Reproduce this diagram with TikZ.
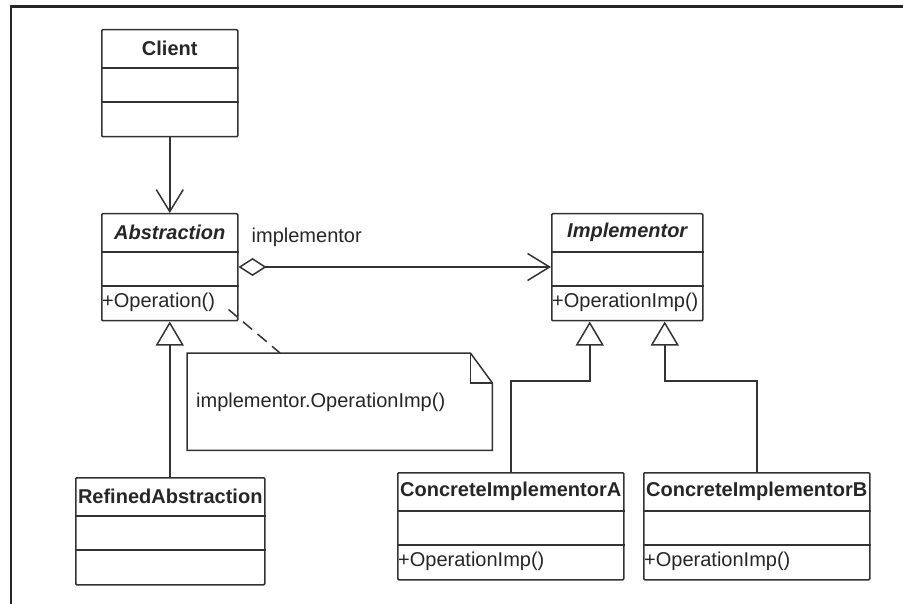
\documentclass[tikz,border=0pt]{standalone}
\usepackage{fontspec}
\setmainfont{Liberation Sans}
\usepackage{tikz}
\usetikzlibrary{calc,arrows.meta}
\tikzset{
	line/.style={line width=1.5pt, color=black!80},
	classbox/.style={line, draw, anchor=north west, minimum height=107pt, inner sep=0pt, rounded corners=1pt},
	gen/.style={line, -{Triangle[open, length=24pt, width=28pt]}},
	nav/.style={line, -{Straight Barb[length=22pt, width=27pt]}},
	agg/.style={line, {Diamond[open, length=28pt, width=18pt]}-{Straight Barb[length=22pt, width=27pt]}}
}
\def\umlfont{\fontsize{20}{24}\selectfont}
\def\umlclass(#1)(#2)#3#4#5{%
	\node[classbox, minimum width=#3] (#1) at (#2) {};
	\node[font=\umlfont\bfseries, inner sep=0pt] (#1-title) at ($(#1.north)+(0,19.5)$) {#4};
	\draw[line] ($(#1.north west)+(0,39)$) -- ($(#1.north east)+(0,39)$);
	\draw[line] ($(#1.north west)+(0,73)$) -- ($(#1.north east)+(0,73)$);
	\node[anchor=west, inner sep=1pt] (#1-op) at ($(#1.north west)+(0,89)$) {#5};
}

\begin{document}
\begin{tikzpicture}[x=1pt, y=-1pt, font=\umlfont, text=black!85]
			%%%%% FRAME %%%%%
			\useasboundingbox (0,0) rectangle (903,604);
			\draw[line width=3pt, color=black!85] (9.5,7) -- (903,7);
			\draw[line width=2.5pt, color=black!85] (11,7) -- (11,604);
			
			%%%%% CLASSES %%%%%
			\umlclass(client)(101,29){136pt}{Client}{}
			\umlclass(abstr)(101,213){136pt}{\itshape Abstraction}{+Operation()}
			\umlclass(impl)(551,213){151pt}{\itshape Implementor}{+OperationImp()}
			\umlclass(refined)(75,477){189pt}{RefinedAbstraction}{}
			\umlclass(concA)(397,472){226pt}{ConcreteImplementorA}{+OperationImp()}
			\umlclass(concB)(643,472){226pt}{ConcreteImplementorB}{+OperationImp()}
			
			%%%%% NOTE %%%%%
			\node[minimum width=305pt, minimum height=97pt, anchor=north west, inner sep=0pt] (note) at (187,353) {};
			\draw[line] (note.north west) -- ($(note.north east)+(-22,0)$) -- ($(note.north east)+(0,30)$) -- (note.south east) -- (note.south west) -- cycle;
			\draw[line] ($(note.north east)+(-22,0)$) -- ($(note.north east)+(-22,30)$) -- ($(note.north east)+(0,30)$);
			\node[anchor=west, inner sep=0pt] (notetext) at ($(note.north west)+(9,49)$) {implementor.OperationImp()};
			
			%%%%% LINKS %%%%%
			\draw[nav] (client.south) -- (abstr.north);
			\draw[agg] ($(abstr.north east)+(0,54)$) -- ($(impl.north west)+(0,54)$);
			\node[anchor=west, inner sep=0pt] (role) at ($(abstr.north east)+(13,24)$) {implementor};
			\coordinate (opend) at ($(abstr.south east)+(-10,-12)$);
			\draw[line, dash pattern=on 12pt off 7pt] (opend) -- ($(note.north west)+(93,0)$);
			
			\draw[gen] (abstr.south |- refined.north) -- (abstr.south);
			\coordinate (implA) at ($(impl.south)+(-37.5,0)$);
			\coordinate (implB) at ($(impl.south)+(37.5,0)$);
			\draw[gen] (concA.north) -- ++(0,-91) -| (implA);
			\draw[gen] (concB.north) -- ++(0,-91) -| (implB);
			
		\end{tikzpicture}
\end{document}
